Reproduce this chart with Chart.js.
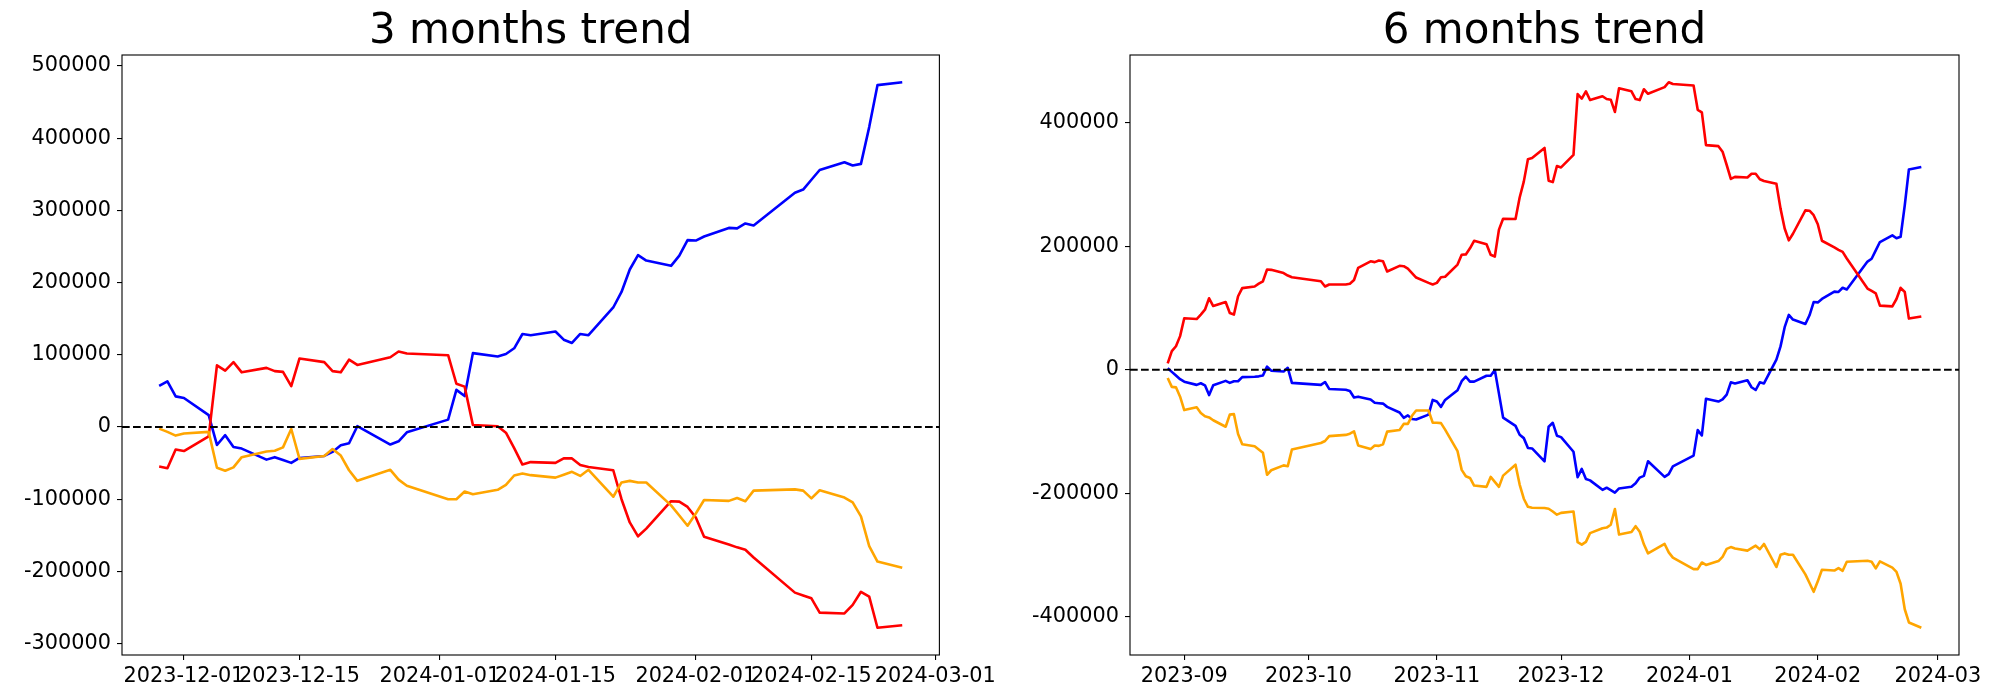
<!DOCTYPE html>
<html>
<head>
<meta charset="utf-8">
<script src="https://cdn.jsdelivr.net/npm/chart.js@4.4.1/dist/chart.umd.min.js"></script>
<style>
html, body { margin: 0; padding: 0; background: #fff; overflow: hidden; }
#wrap { position: relative; width: 2000px; height: 700px; }
canvas { position: absolute; top: 0; }
</style>
</head>
<body>
<div id="wrap">
  <canvas id="chart3m" width="1000" height="700" style="left:0px"></canvas>
  <canvas id="chart6m" width="1000" height="700" style="left:1000px"></canvas>
</div>
<script>
// 3 months
const threeMonthDates = [
  '2023-11-28','2023-11-29','2023-11-30','2023-12-01',
  '2023-12-04','2023-12-05','2023-12-06','2023-12-07','2023-12-08',
  '2023-12-11','2023-12-12','2023-12-13','2023-12-14','2023-12-15',
  '2023-12-18','2023-12-19','2023-12-20','2023-12-21','2023-12-22',
  '2023-12-26','2023-12-27','2023-12-28',
  '2024-01-02','2024-01-03','2024-01-04','2024-01-05',
  '2024-01-08','2024-01-09','2024-01-10','2024-01-11','2024-01-12',
  '2024-01-15','2024-01-16','2024-01-17','2024-01-18','2024-01-19',
  '2024-01-22','2024-01-23','2024-01-24','2024-01-25','2024-01-26',
  '2024-01-29','2024-01-30','2024-01-31','2024-02-01','2024-02-02',
  '2024-02-05','2024-02-06','2024-02-07','2024-02-08',
  '2024-02-13','2024-02-14','2024-02-15','2024-02-16',
  '2024-02-19','2024-02-20','2024-02-21','2024-02-22','2024-02-23',
  '2024-02-26'
];
const blue3m = [57000, 63300, 42400, 40100,
  16400, -24900, -11300, -27700, -29900,
  -45200, -41800, -45800, -49700, -42900,
  -40100, -34500, -25400, -22600, 1100,
  -24300, -19800, -7300,
  10200, 51400, 42900, 102300,
  97700, 101100, 109000, 128800, 127100,
  132200, 120900, 116400, 128800, 127100,
  165500, 187000, 218100, 237900, 230500,
  223200, 237300, 258800, 258200, 263800,
  275700, 275100, 281900, 279100,
  324300, 328800, 342400, 355900,
  366700, 362100, 364400, 415300, 473400,
  477400];
const red3m = [-54800, -57100, -31100, -33300,
  -13000, 85300, 78000, 89800, 75700,
  81900, 77400, 76300, 56500, 94900,
  89800, 77400, 75700, 93200, 85900,
  96600, 104500, 101700,
  99400, 59900, 55900, 2800,
  1100, -7900, -29400, -52000, -48600,
  -49700, -43500, -43500, -52500, -55400,
  -59900, -100000, -132200, -151400, -140700,
  -102800, -103400, -110700, -125400, -152000,
  -162700, -166700, -170100, -180800,
  -229400, -233300, -237300, -257100,
  -258200, -246300, -228200, -235000, -278000,
  -274600];
const orange3m = [-2300, -6800, -11900, -9000,
  -6800, -56500, -60500, -55900, -41800,
  -33900, -32800, -28200, -2800, -44100,
  -40100, -30500, -39500, -59900, -74600,
  -59300, -72900, -81400,
  -100000, -100000, -89300, -93200,
  -87000, -80200, -67200, -64400, -66700,
  -70100, -66100, -62100, -67800, -59300,
  -96600, -76800, -74600, -76800, -76800,
  -108500, -122600, -136700, -119800, -101100,
  -102300, -98300, -102800, -88100,
  -86400, -88100, -98900, -87600,
  -97700, -104500, -123700, -165000, -186400,
  -194900];

// 6 months
const sixMonthDates = [
  '2023-08-28','2023-08-29','2023-08-30','2023-08-31',
  '2023-09-01','2023-09-04','2023-09-05','2023-09-06','2023-09-07','2023-09-08',
  '2023-09-11','2023-09-12','2023-09-13','2023-09-14','2023-09-15',
  '2023-09-18','2023-09-19','2023-09-20','2023-09-21','2023-09-22',
  '2023-09-25','2023-09-26','2023-09-27',
  '2023-10-04','2023-10-05','2023-10-06',
  '2023-10-10','2023-10-11','2023-10-12','2023-10-13',
  '2023-10-16','2023-10-17','2023-10-18','2023-10-19','2023-10-20',
  '2023-10-23','2023-10-24','2023-10-25','2023-10-26','2023-10-27',
  '2023-10-30','2023-10-31',
  '2023-11-01','2023-11-02','2023-11-03',
  '2023-11-06','2023-11-07','2023-11-08','2023-11-09','2023-11-10',
  '2023-11-13','2023-11-14','2023-11-15','2023-11-16','2023-11-17',
  '2023-11-20','2023-11-21','2023-11-22','2023-11-23','2023-11-24',
  '2023-11-27',
  '2023-11-28','2023-11-29','2023-11-30','2023-12-01',
  '2023-12-04','2023-12-05','2023-12-06','2023-12-07','2023-12-08',
  '2023-12-11','2023-12-12','2023-12-13','2023-12-14','2023-12-15',
  '2023-12-18','2023-12-19','2023-12-20','2023-12-21','2023-12-22',
  '2023-12-26','2023-12-27','2023-12-28',
  '2024-01-02','2024-01-03','2024-01-04','2024-01-05',
  '2024-01-08','2024-01-09','2024-01-10','2024-01-11','2024-01-12',
  '2024-01-15','2024-01-16','2024-01-17','2024-01-18','2024-01-19',
  '2024-01-22','2024-01-23','2024-01-24','2024-01-25','2024-01-26',
  '2024-01-29','2024-01-30','2024-01-31','2024-02-01','2024-02-02',
  '2024-02-05','2024-02-06','2024-02-07','2024-02-08',
  '2024-02-13','2024-02-14','2024-02-15','2024-02-16',
  '2024-02-19','2024-02-20','2024-02-21','2024-02-22','2024-02-23',
  '2024-02-26'
];
const blue6m = [2600, -3300, -9200, -15100,
  -19100, -24300, -21700, -25000, -40800, -25000, -17800, -21100, -18400, -18400, -11800,
  -11200, -10500, -9200, 5300, -1300, -2600, 3300, -21100,
  -24300, -19700, -30900, -32200, -34200, -44700, -43400, -48000, -53300, -54000, -54600, -59900,
  -69100, -77600, -73700, -79600, -80300, -72400, -48700,
  -51300, -59900, -48700, -32900, -18400, -11100, -19100, -19100, -9500, -9500, -300, -38500, -77200,
  -90600, -105100, -110500, -126500, -127200, -148100,
  -92000, -85700, -106600, -108900,
  -132600, -173900, -160300, -176700, -178900,
  -194200, -190800, -194800, -198700, -191900,
  -189100, -183500, -174400, -171600, -147900,
  -173300, -168800, -156300,
  -138800, -97600, -106100, -46700,
  -51300, -47900, -40000, -20200, -21900,
  -16800, -28100, -32600, -20200, -21900,
  16500, 38000, 69100, 88900, 81500,
  74200, 88300, 109800, 109200, 114800,
  126700, 126100, 132900, 130100,
  175300, 179800, 193400, 206900,
  217700, 213100, 215400, 266300, 324400,
  328400];
const red6m = [10500, 30300, 38200, 54600,
  83600, 82300, 89500, 97400, 115800, 103300, 109900, 92100, 89500, 119100, 132300,
  134900, 139500, 143400, 162500, 161900, 156600, 152700, 150000,
  143400, 134900, 138200, 138200, 139500, 145400, 165200, 175700, 174400, 177000, 175700, 159200,
  168400, 167800, 163800, 156600, 149400, 140800, 138200,
  140800, 150000, 150700, 170400, 186200, 186900, 196700, 208800, 203300, 186200, 183400, 227000, 244700,
  244100, 279000, 304700, 340800, 342800, 359300,
  306200, 303900, 329900, 327700,
  348000, 446300, 439000, 450800, 436700,
  442900, 438400, 437300, 417500, 455900,
  450800, 438400, 436700, 454200, 446900,
  457600, 465500, 462700,
  460400, 420900, 416900, 363800,
  362100, 353100, 331600, 309000, 312400,
  311300, 317500, 317500, 308500, 305600,
  301100, 261000, 228800, 209600, 220300,
  258200, 257600, 250300, 235600, 209000,
  198300, 194300, 190900, 180200,
  131600, 127700, 123700, 103900,
  102800, 114700, 132800, 126000, 83000,
  86400];
const orange6m = [-13200, -27600, -28300, -43400,
  -65100, -60500, -69700, -75000, -77000, -81600, -92100, -72400, -71700, -104000, -120400,
  -123700, -129000, -134200, -169800, -162500, -154600, -155900, -129000,
  -118400, -115200, -107300, -105300, -103300, -99400, -122400, -128300, -122400, -123000, -120400, -100000,
  -97400, -87500, -87500, -74400, -65800, -65800, -85500,
  -85500, -86200, -96700, -131600, -161900, -172300, -175000, -187300, -189400, -173300, -181400, -189400, -171200,
  -153500, -185600, -208600, -221700, -223100, -223700,
  -224800, -229300, -234400, -231500,
  -229300, -279000, -283000, -278400, -264300,
  -256400, -255300, -250700, -225300, -266600,
  -262600, -253000, -262000, -282400, -297100,
  -281800, -295400, -303900,
  -322500, -322500, -311800, -315700,
  -309500, -302700, -289700, -286900, -289200,
  -292600, -288600, -284600, -290300, -281800,
  -319100, -299300, -297100, -299300, -299300,
  -331000, -345100, -359200, -342300, -323600,
  -324800, -320800, -325300, -310600,
  -308900, -310600, -321400, -310100,
  -320200, -327000, -346200, -387500, -408900,
  -417400];

// tick labels
const ticks3mX = ['2023-12-01','2023-12-15','2024-01-01','2024-01-15','2024-02-01','2024-02-15','2024-03-01'];
const labels3mX = ['2023-12-01','2023-12-15','2024-01-01','2024-01-15','2024-02-01','2024-02-15','2024-03-01'];
const ticks3mY = [-300000, -200000, -100000, 0, 100000, 200000, 300000, 400000, 500000];
const ticks6mX = ['2023-09-01','2023-10-01','2023-11-01','2023-12-01','2024-01-01','2024-02-01','2024-03-01'];
const labels6mX = ['2023-09','2023-10','2023-11','2023-12','2024-01','2024-02','2024-03'];
const ticks6mY = [-400000, -200000, 0, 200000, 400000];

const FONT = 'DejaVu Sans';

function dayNum(s) {
    return Date.UTC(+s.slice(0, 4), +s.slice(5, 7) - 1, +s.slice(8, 10)) / 86400000;
}

// dashed zero line + box around the axes
const framePlugin = {
    id: 'frame',
    afterDatasetsDraw(chart) {
        const { ctx, chartArea: a } = chart;
        const y0 = chart.scales.y.getPixelForValue(0);
        ctx.save();
        ctx.strokeStyle = '#000';
        ctx.lineWidth = 2;
        ctx.setLineDash([7.7, 3.3]);
        ctx.beginPath();
        ctx.moveTo(a.left, y0);
        ctx.lineTo(a.right, y0);
        ctx.stroke();
        ctx.setLineDash([]);
        ctx.lineWidth = 1.1;
        ctx.strokeRect(a.left, a.top, a.right - a.left, a.bottom - a.top);
        ctx.restore();
    }
};

function makeChart(id, title, dates, blue, red, orange, xTicks, xLabels, yTicks, areaLeft, areaRight) {
    const xs = dates.map(dayNum);
    const pts = vals => vals.map((v, i) => ({ x: xs[i], y: v }));
    const all = blue.concat(red, orange);
    const yLo = Math.min(...all), yHi = Math.max(...all);
    const yPad = (yHi - yLo) * 0.05;
    const xLo = Math.min(...xs), xHi = Math.max(...xs);
    const xPad = (xHi - xLo) * 0.05;
    const line = (data, color, order) => ({
        data: data, borderColor: color, backgroundColor: color, borderWidth: 2.6,
        pointRadius: 0, tension: 0, fill: false, order: order,
        borderJoinStyle: 'round'
    });
    const axisGrid = { display: true, drawOnChartArea: false, drawTicks: true, tickLength: 5, color: '#000', lineWidth: 1.1 };

    return new Chart(document.getElementById(id).getContext('2d'), {
        type: 'line',
        data: {
            datasets: [
                line(pts(blue), '#0000ff', 3),
                line(pts(red), '#ff0000', 2),
                line(pts(orange), '#ffa500', 1)
            ]
        },
        options: {
            responsive: false,
            animation: false,
            devicePixelRatio: 1,
            layout: { padding: { left: 0, right: 1000 - areaRight, top: 0, bottom: 0 } },
            plugins: {
                legend: { display: false },
                tooltip: { enabled: false },
                title: {
                    display: true, text: title, fullSize: false, color: '#000',
                    font: { family: FONT, size: 42, weight: 'normal', lineHeight: 1 },
                    padding: { top: 11, bottom: 2 }
                }
            },
            scales: {
                x: {
                    type: 'linear', min: xLo - xPad, max: xHi + xPad,
                    afterBuildTicks: s => { s.ticks = xTicks.map(d => ({ value: dayNum(d) })); },
                    afterFit: s => { s.height = 45; },
                    grid: axisGrid,
                    border: { display: false },
                    ticks: {
                        autoSkip: false, maxRotation: 0, padding: 4, color: '#000',
                        font: { family: FONT, size: 20.8 },
                        callback: (v, i) => xLabels[i]
                    }
                },
                y: {
                    type: 'linear', min: yLo - yPad, max: yHi + yPad,
                    afterBuildTicks: s => { s.ticks = yTicks.map(v => ({ value: v })); },
                    afterFit: s => { s.width = areaLeft; },
                    grid: axisGrid,
                    border: { display: false },
                    ticks: {
                        padding: 6, color: '#000',
                        font: { family: FONT, size: 20.8 },
                        callback: v => String(v)
                    }
                }
            }
        },
        plugins: [framePlugin]
    });
}

makeChart('chart3m', '3 months trend', threeMonthDates, blue3m, red3m, orange3m, ticks3mX, labels3mX, ticks3mY, 122, 951);
makeChart('chart6m', '6 months trend', sixMonthDates, blue6m, red6m, orange6m, ticks6mX, labels6mX, ticks6mY, 130, 959);
</script>
</body>
</html>
